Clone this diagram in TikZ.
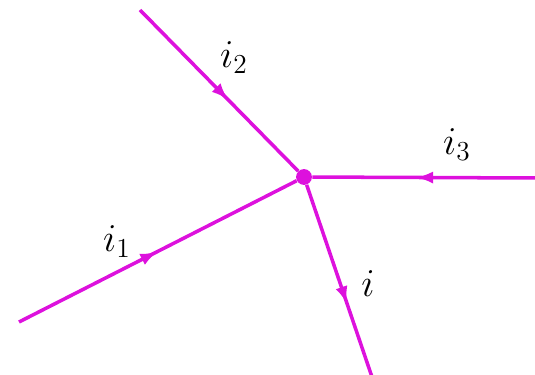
\documentclass[tikz,border=0pt]{standalone}
\usetikzlibrary{arrows.meta,decorations.markings}
\definecolor{wire}{HTML}{DD11DD}
\tikzset{
  current/.style={wire,line width=2pt,postaction=decorate,
    decoration={markings,mark=at position #1 with {\arrow{Latex[length=10pt,width=7pt]}}}},
  lbl/.style={inner sep=0pt}
}
\newcommand{\cur}[1]{\scalebox{1.3}{\LARGE$#1$}}

\begin{document}
\begin{tikzpicture}[x=0.02cm,y=-0.02cm]
\useasboundingbox (0,0) rectangle (535,375);
\node[circle,fill=wire,inner sep=0pt,minimum size=9pt] (J) at (304,177){};
\coordinate (A1) at (19,322);\coordinate (A2) at (140,10);
\coordinate (A3) at (537,178);\coordinate (B) at (372,377);
\draw[current=.5] (A1)--(J);
\draw[current=.56] (A2)--(J);
\draw[current=.54] (A3)--(J);
\draw[current=.62] (J)--(B);
\node[lbl] (L1) at (117,242){\cur{i_1}};
\node[lbl] (L2) at (234,58){\cur{i_2}};
\node[lbl] (L3) at (457,145){\cur{i_3}};
\node[lbl] (L) at (368,284){\cur{i}};
\end{tikzpicture}
\end{document}
